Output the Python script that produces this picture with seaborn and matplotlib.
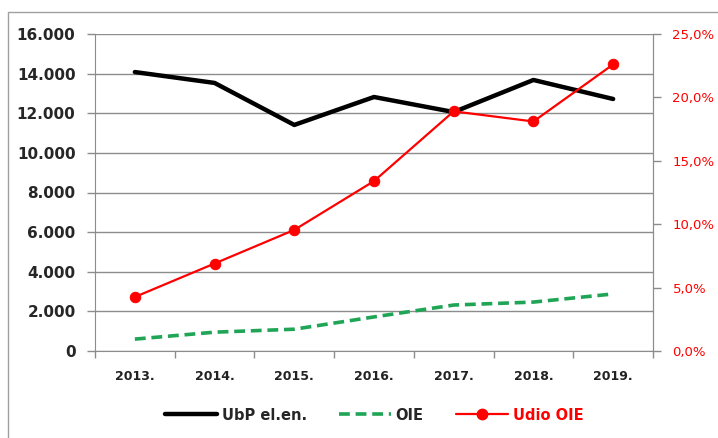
import pandas as pd
import matplotlib
matplotlib.use("Agg")
import matplotlib.pyplot as plt
import seaborn as sns
from matplotlib.lines import Line2D
from matplotlib.patches import Rectangle
from matplotlib.ticker import FuncFormatter, MultipleLocator, FixedLocator, NullFormatter

# data
years = ["2013.", "2014.", "2015.", "2016.", "2017.", "2018.", "2019."]
ubp_el_en = [14080, 13530, 11410, 12820, 12060, 13680, 12720]
oie = [600, 950, 1100, 1720, 2320, 2470, 2880]
udio_oie = [4.26, 6.9, 9.55, 13.4, 18.9, 18.1, 22.6]

RED = "#FF0000"
GREEN = "#1FA555"
GRID = "#8C8C8C"


def thousands(v, _):
    return f"{int(v):,}".replace(",", ".")


def percent(v, _):
    return f"{v:.1f}%".replace(".", ",")


def main():
    sns.set_style("white")
    plt.rcParams["font.family"] = ["DejaVu Sans"]

    df = pd.DataFrame({"x": range(len(years)), "ubp": ubp_el_en,
                       "oie": oie, "udio": udio_oie})

    fig = plt.figure(figsize=(7.18, 4.38), dpi=100)
    # outer chart frame
    fig.patches.append(Rectangle((8 / 718, -0.05), 1.0, 1 - 12 / 438 + 0.05,
                                 transform=fig.transFigure, fill=False,
                                 edgecolor="#A0A0A0", linewidth=1.0))
    ax = fig.add_axes([95 / 718, 1 - 351 / 438, 558 / 718, 317 / 438])
    ax2 = ax.twinx()

    sns.lineplot(data=df, x="x", y="ubp", ax=ax, color="black", linewidth=3.2)
    sns.lineplot(data=df, x="x", y="oie", ax=ax, color=GREEN, linewidth=2.6)
    ax.lines[-1].set_dashes([3, 1.6])
    sns.lineplot(data=df, x="x", y="udio", ax=ax2, color=RED, linewidth=1.6,
                 marker="o", markersize=7.5, markeredgecolor=RED)

    ax.set_xlim(-0.5, len(years) - 0.5)
    ax.set_ylim(0, 16000)
    ax2.set_ylim(0, 25)
    ax.yaxis.set_major_locator(MultipleLocator(2000))
    ax.yaxis.set_major_formatter(FuncFormatter(thousands))
    ax2.yaxis.set_major_locator(MultipleLocator(5))
    ax2.yaxis.set_major_formatter(FuncFormatter(percent))

    # category labels centred, tick marks between categories
    ax.xaxis.set_major_locator(FixedLocator([i - 0.5 for i in range(len(years) + 1)]))
    ax.xaxis.set_major_formatter(NullFormatter())
    ax.xaxis.set_minor_locator(FixedLocator(list(range(len(years)))))
    ax.set_xticklabels(years, minor=True)
    ax.tick_params(axis="x", which="major", direction="out", length=5,
                   color=GRID, width=1, bottom=True)
    ax.tick_params(axis="x", which="minor", length=0, pad=14,
                   labelsize=9, labelcolor="#222222")
    for t in ax.get_xticklabels(minor=True):
        t.set_fontweight("bold")

    ax.tick_params(axis="y", direction="out", length=6, color=GRID, width=1,
                   left=True, labelsize=11, pad=8)
    for t in ax.get_yticklabels():
        t.set_fontweight("bold")
    ax2.tick_params(axis="y", direction="out", length=6, color=GRID, width=1,
                    right=True, labelsize=9.5, labelcolor=RED, pad=8)

    ax.grid(axis="y", color=GRID, linewidth=1)
    ax.set_axisbelow(True)
    ax.set_xlabel("")
    ax.set_ylabel("")
    ax2.set_ylabel("")
    for a in (ax, ax2):
        a.spines["top"].set_visible(False)
        for s in ("left", "right", "bottom"):
            a.spines[s].set_color(GRID)
    ax2.spines["left"].set_visible(False)
    ax2.spines["bottom"].set_visible(False)

    handles = [
        Line2D([], [], color="black", linewidth=3.2),
        Line2D([], [], color=GREEN, linewidth=2.6, dashes=[3, 1.6]),
        Line2D([], [], color=RED, linewidth=1.6, marker="o", markersize=7.5),
    ]
    leg = fig.legend(handles, ["UbP el.en.", "OIE", "Udio OIE"], ncol=3,
                     loc="center", bbox_to_anchor=(374 / 718, 1 - 415 / 438),
                     frameon=False, handlelength=3.6, handletextpad=0.3,
                     columnspacing=2.2, prop={"size": 10.5, "weight": "bold"})
    leg.get_texts()[2].set_color(RED)

    fig.savefig("out.png", dpi=100)


if __name__ == "__main__":
    main()
